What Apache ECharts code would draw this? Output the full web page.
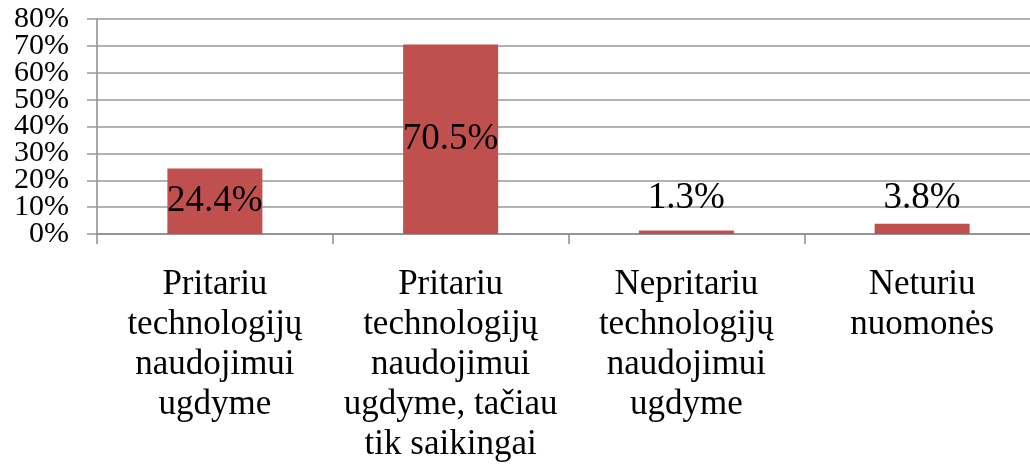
<!DOCTYPE html>
<html>
<head>
<meta charset="utf-8">
<script src="https://cdn.jsdelivr.net/npm/echarts@6/dist/echarts.min.js"></script>
<style>
	html, body { margin: 0; padding: 0; overflow: hidden; background: #fff; }
	#chart { width: 1040px; height: 465px; }
</style>
</head>
<body>
<div id="chart"></div>
<script>
var categories = [
	'Pritariu\ntechnologijų\nnaudojimui\nugdyme',
	'Pritariu\ntechnologijų\nnaudojimui\nugdyme, tačiau\ntik saikingai',
	'Nepritariu\ntechnologijų\nnaudojimui\nugdyme',
	'Neturiu\nnuomonės'
];
var values = [24.4, 70.5, 1.3, 3.8];
var yTicks = [0, 10, 20, 30, 40, 50, 60, 70, 80];

var dom = document.getElementById("chart");
var myChart = echarts.init(dom);
var font = '"Liberation Serif", "Times New Roman", serif';

// small bars get their label lifted off the base, like the original
var barData = values.map(function (v) {
	return {
		value: v,
		label: v < 10 ? { position: 'insideBottom', distance: 17 } : { position: 'inside' }
	};
});

// the tick labels are taller than their spacing, so they are split over
// two stacked axes (even / odd ticks) to stop echarts hiding any of them
function yLabel(even) {
	return {
		margin: 28,
		color: '#000',
		fontFamily: font,
		fontSize: 30,
		showMinLabel: true,
		showMaxLabel: true,
		formatter: function (v) {
			return ((v / 10) % 2 === 0) === even ? v + '%' : '';
		}
	};
}

var option = {
	animation: false,
	grid: { left: 97, right: 0, top: 19, bottom: 229 },
	xAxis: {
		type: 'category',
		data: categories,
		axisLine: { lineStyle: { color: '#8c8c8c', width: 1.5 } },
		axisTick: { show: true, length: 10, lineStyle: { color: '#8c8c8c', width: 1.5 } },
		axisLabel: {
			interval: 0,
			margin: 31,
			color: '#000',
			fontFamily: font,
			fontSize: 35,
			lineHeight: 40
		}
	},
	yAxis: [{
		type: 'value',
		min: yTicks[0],
		max: yTicks[yTicks.length - 1],
		interval: 10,
		axisLine: { show: true, lineStyle: { color: '#8c8c8c', width: 1.5 } },
		axisTick: { show: true, length: 10, lineStyle: { color: '#9a9a9a', width: 1.5 } },
		splitLine: { lineStyle: { color: '#9a9a9a', width: 1.5 } },
		axisLabel: yLabel(true)
	}, {
		type: 'value',
		position: 'left',
		min: yTicks[0],
		max: yTicks[yTicks.length - 1],
		interval: 10,
		axisLine: { show: false },
		axisTick: { show: false },
		splitLine: { show: false },
		axisLabel: yLabel(false)
	}],
	series: [{
		type: 'bar',
		data: barData,
		barWidth: 95,
		itemStyle: { color: '#C0504D' },
		label: {
			show: true,
			color: '#000',
			fontFamily: font,
			fontSize: 37,
			formatter: function (p) { return p.value.toFixed(1) + '%'; }
		}
	}]
};
myChart.setOption(option);
window.onresize = function () {
	myChart.resize();
};
</script>
</body>
</html>
